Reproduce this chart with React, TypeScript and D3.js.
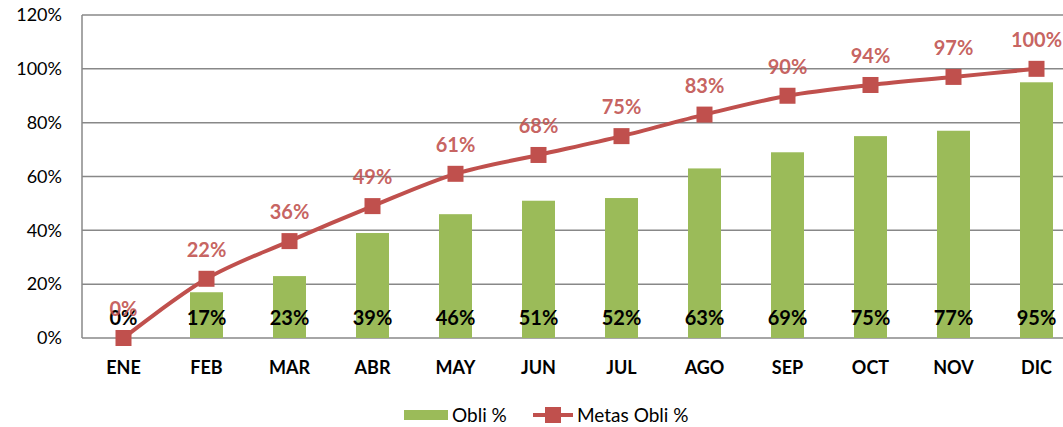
import React from "react";
import * as d3 from "d3";

const months = ["ENE", "FEB", "MAR", "ABR", "MAY", "JUN", "JUL", "AGO", "SEP", "OCT", "NOV", "DIC"];
const obli = [0, 17, 23, 39, 46, 51, 52, 63, 69, 75, 77, 95];
const metas = [0, 22, 36, 49, 61, 68, 75, 83, 90, 94, 97, 100];
const yTicks = [0, 20, 40, 60, 80, 100, 120];

const W = 1063, H = 427;
const left = 82, top = 15, bottom = 338;
const band = 83;
const FONT = "Lato, 'Open Sans', sans-serif";
const GREEN = "#9BBB59";
const RED = "#C0504D";

export default function App() {
  const x = d3.scaleBand<string>().domain(months).range([left, left + band * months.length]).paddingInner(0.6).paddingOuter(0.3);
  const xc = (m: string) => (x(m) as number) + x.bandwidth() / 2;
  const y = d3.scaleLinear().domain([0, 120]).range([bottom, top]);
  const line = d3.line<number>().x((_, i) => xc(months[i])).y((d) => y(d)).curve(d3.curveCatmullRom.alpha(0.5));
  const bw = 33;
  return (
    <svg width={W} height={H} style={{ position: "absolute", left: 0, top: 0, background: "#fff" }} fontFamily={FONT}>
      {yTicks.map((t) => (
        <g key={t}>
          <line x1={left} x2={W} y1={y(t)} y2={y(t)} stroke="#888" strokeWidth={1.5} />
          <text x={62} y={y(t)} dy="0.35em" textAnchor="end" fontSize={18} fill="#000">{t}%</text>
        </g>
      ))}
      <line x1={left} x2={left} y1={top} y2={bottom} stroke="#888" strokeWidth={1.5} />
      {months.map((m, i) => (
        <g key={m}>
          <rect x={xc(m) - bw / 2} y={y(obli[i])} width={bw} height={bottom - y(obli[i])} fill={GREEN} />
          <text x={xc(m)} y={368} dy="0.35em" textAnchor="middle" fontSize={18} fontWeight="bold" fill="#000">{m}</text>
        </g>
      ))}
      <path d={line(metas) || ""} fill="none" stroke={RED} strokeWidth={4} />
      {months.map((m, i) => (
        <rect key={m} x={xc(m) - 8} y={y(metas[i]) - 8} width={16} height={16} fill={RED} />
      ))}
      {months.map((m, i) => (
        <text key={m} x={xc(m)} y={318} dy="0.35em" textAnchor="middle" fontSize={20} fontWeight="bold" fill="#000">{obli[i]}%</text>
      ))}
      {months.map((m, i) => (
        <text key={m} x={xc(m)} y={y(metas[i]) - 29} dy="0.35em" textAnchor="middle" fontSize={20} fontWeight="bold" fill={RED} fillOpacity={0.9}>{metas[i]}%</text>
      ))}
      <rect x={404} y={410} width={44} height={10} fill={GREEN} />
      <text x={452} y={415} dy="0.35em" fontSize={19} fill="#000">Obli %</text>
      <line x1={533} x2={573} y1={415} y2={415} stroke={RED} strokeWidth={4} />
      <rect x={545} y={407} width={16} height={16} fill={RED} />
      <text x={577} y={415} dy="0.35em" fontSize={19} fill="#000">Metas Obli %</text>
    </svg>
  );
}
